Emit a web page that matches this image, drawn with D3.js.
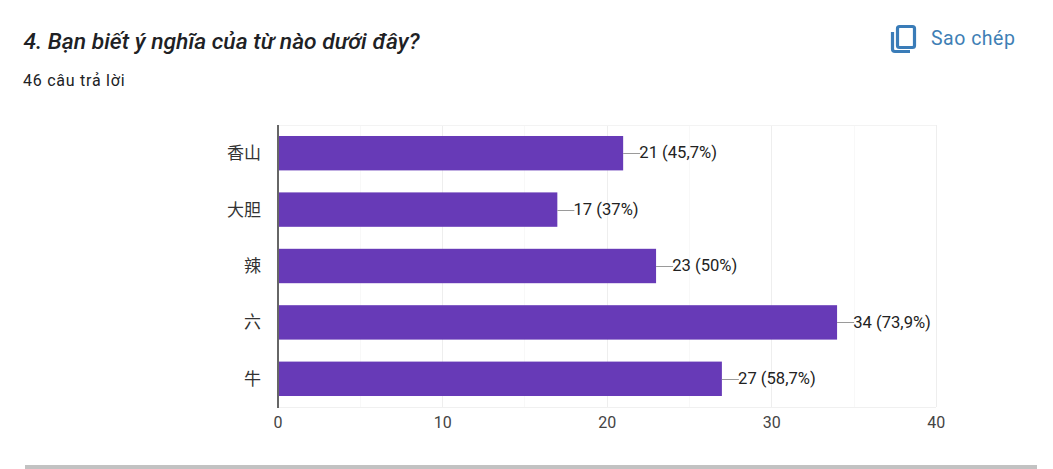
<!DOCTYPE html>
<html><head><meta charset="utf-8">
<script src="https://cdn.jsdelivr.net/npm/d3@7"></script>
<style>html,body{margin:0;padding:0;background:#fff;overflow:hidden}svg{display:block}text{font-family:Roboto,"Noto Sans CJK SC",sans-serif}</style>
</head><body><svg id="c" width="1053" height="469"></svg>
<script>
const categories=["香山","大胆","辣","六","牛"];
const counts=[21,17,23,34,27];
const percents=["45,7%","37%","50%","73,9%","58,7%"];
const xTicks=[0,10,20,30,40];
const minorTicks=[5,15,25,35];
const title="4. Bạn biết ý nghĩa của từ nào dưới đây?";
const subtitle="46 câu trả lời";
const copyLabel="Sao chép";
const svg=d3.select("#c");
const x=d3.scaleLinear().domain([0,40]).range([277.6,935.8]);
const y=d3.scaleBand().domain(categories).range([125,407]).paddingInner(0.39).paddingOuter(0.195);
// header
svg.append("text").attr("x",23.5).attr("y",48.5).attr("font-size",22.85).attr("font-weight",500).attr("font-style","italic").attr("fill","#202124").text(title);
svg.append("text").attr("x",23).attr("y",86).attr("font-size",16).attr("letter-spacing",0.75).attr("fill","#202124").text(subtitle);
svg.append("text").attr("x",931).attr("y",44.5).attr("font-size",19.5).attr("font-weight",400).attr("letter-spacing",0.5).attr("fill","#3f7fb5").text(copyLabel);
const ic=svg.append("g").attr("fill","none").attr("stroke","#3a7cb8").attr("stroke-width",3.2);
ic.append("rect").attr("x",897.5).attr("y",26.5).attr("width",17).attr("height",21).attr("rx",2);
ic.append("path").attr("d","M892.5 32V49a2.5 2.5 0 0 0 2.5 2.5H910");
// grid
svg.append("g").selectAll("line").data(minorTicks).join("line").attr("x1",d=>Math.round(x(d))+.5).attr("x2",d=>Math.round(x(d))+.5).attr("y1",125).attr("y2",407).attr("stroke","#f8f8f8");
svg.append("g").selectAll("line").data(xTicks.slice(1)).join("line").attr("x1",d=>Math.round(x(d))+.5).attr("x2",d=>Math.round(x(d))+.5).attr("y1",125).attr("y2",407).attr("stroke","#eeeeee");
svg.append("line").attr("x1",278).attr("x2",936).attr("y1",125.5).attr("y2",125.5).attr("stroke","#f3f3f3");
svg.append("line").attr("x1",278).attr("x2",936).attr("y1",407.5).attr("y2",407.5).attr("stroke","#f0f0f0");
// axis
const ax=svg.append("g").attr("transform","translate(0,407)").call(d3.axisBottom(x).tickValues(xTicks).tickSize(0).tickPadding(10));
ax.select(".domain").remove();
ax.selectAll("text").attr("font-size",16).attr("fill","#444").attr("font-family","Roboto");
// bars
const rows=svg.append("g").selectAll("g").data(categories).join("g");
rows.append("rect").attr("x",x(0)).attr("y",d=>y(d)).attr("height",y.bandwidth()).attr("width",(d,i)=>x(counts[i])-x(0)).attr("fill","#673ab7");
rows.append("line").attr("x1",(d,i)=>x(counts[i])).attr("x2",(d,i)=>x(counts[i])+17).attr("y1",d=>Math.round(y(d)+y.bandwidth()/2)+.5).attr("y2",d=>Math.round(y(d)+y.bandwidth()/2)+.5).attr("stroke","#9a9a9a");
rows.append("text").attr("x",(d,i)=>x(counts[i])+16.2).attr("y",d=>y(d)+y.bandwidth()/2+5.2).attr("font-size",16.6).attr("fill","#222").text((d,i)=>`${counts[i]} (${percents[i]})`);
rows.append("text").attr("x",261).attr("y",d=>y(d)+y.bandwidth()/2+6).attr("text-anchor","end").attr("font-size",17).attr("fill","#333").attr("font-family",'"Noto Sans CJK SC"').text(d=>d);
svg.append("line").attr("x1",278).attr("x2",278).attr("y1",125).attr("y2",408).attr("stroke","#666").attr("stroke-width",2);
// footer band
svg.append("rect").attr("x",25).attr("y",465).attr("width",1012).attr("height",4).attr("fill","#c2c2c2");
</script></body></html>
